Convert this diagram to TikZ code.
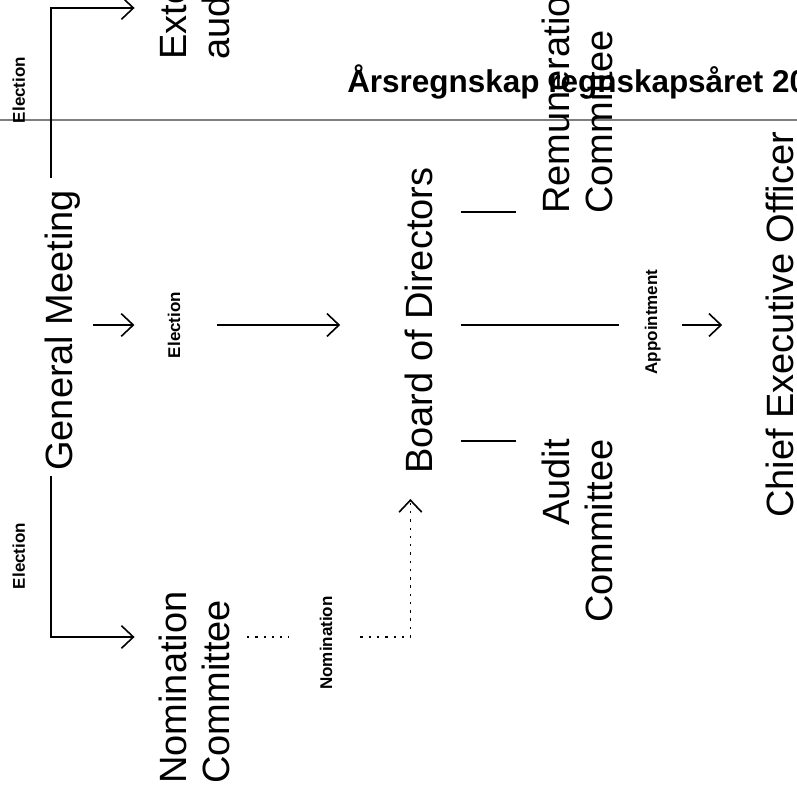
\documentclass[tikz,border=0pt]{standalone}
\usepackage{fontspec}
\setmainfont{Liberation Sans}
\usepackage{tikz}
\usetikzlibrary{arrows.meta, calc}
\definecolor{rulegray}{HTML}{7F7F7F}

\begin{document}
\begin{tikzpicture}[
  x=0.75pt, y=-0.75pt,
  unit/.style={rotate=90, inner sep=0pt, font=\fontsize{28.5}{32.25}\selectfont},
  tag/.style={rotate=90, inner sep=0pt, anchor=base, font=\bfseries\fontsize{12.75}{15}\selectfont},
  ln/.style={line width=1.2pt},
  arr/.style={-{Straight Barb[length=9pt, width=17pt, line width=1.2pt]}, line width=1.2pt},
  dots/.style={line width=1.8pt, dash pattern=on 1.8pt off 4.4pt},
]
\useasboundingbox (0,0) rectangle (797,791);

% header
\draw[rulegray, line width=1pt] (0,120) -- (797,120);
\node[anchor=base west, inner sep=0pt, font=\bfseries\fontsize{23.6}{28}\selectfont] (title) at (347,93) {Årsregnskap regnskapsåret 20};

% bodies
\node[unit, anchor=south west, align=left] (ext) at (230,60) {External\\auditor};
\node[unit, anchor=base west] (gm) at (72,471) {General Meeting};
\node[unit, anchor=south west, align=left] (nom) at (230,784) {Nomination\\Committee};
\node[unit, anchor=base west] (bod) at (432,474) {Board of Directors};
\node[unit, anchor=south west, align=left] (rem) at (613,214) {Remuneration\\Committee};
\node[unit, anchor=south east, align=right] (aud) at (613,439) {Audit\\Committee};
\node[unit, anchor=base west] (ceo) at (793,518) {Chief Executive Officer};

% small labels
\node[tag] (el1) at (25,90) {Election};
\node[tag] (el2) at (25,556) {Election};
\node[tag] (el3) at (180,325) {Election};
\node[tag] (nomlab) at (332,643) {Nomination};
\node[tag] (app) at (657,322) {Appointment};

\coordinate (row) at (0,325);
\coordinate (toprow) at (0,8);
\coordinate (nomrow) at (0,637);

% election of the auditor and of the nomination committee
\draw[arr] ($(gm.north east)+(7,-12)$) |- ($(ext.north west |- toprow)+(-24,0)$);
\draw[arr] ($(gm.north west)+(7,5)$) |- ($(nom.north west |- nomrow)+(-24,0)$);

% main line
\draw[arr] ($(gm.south |- row)+(13,0)$) -- ($(el3.north |- row)+(-33,0)$);
\draw[arr] ($(el3.south |- row)+(37,0)$) -- ($(bod.north |- row)+(-64,0)$);
\draw[ln] ($(bod.south |- row)+(28,0)$) -- ($(app.north |- row)+(-25,0)$);
\draw[arr] ($(app.south |- row)+(21,0)$) -- ($(ceo.north |- row)+(-43,0)$);

% committees
\draw[ln] ($(bod.south |- rem.south west)+(28,-2)$) -- ++(55,0);
\draw[ln] ($(bod.south |- aud.north east)+(28,2)$) -- ++(55,0);

% nomination
\draw[dots] ($(nom.south |- nomrow)+(17,0)$) -- ($(nomlab.north |- nomrow)+(-30,0)$);
\draw[dots, arr] ($(nomlab.south |- nomrow)+(28,0)$) -| ($(bod.west)+(-8,25)$);
\end{tikzpicture}
\end{document}
